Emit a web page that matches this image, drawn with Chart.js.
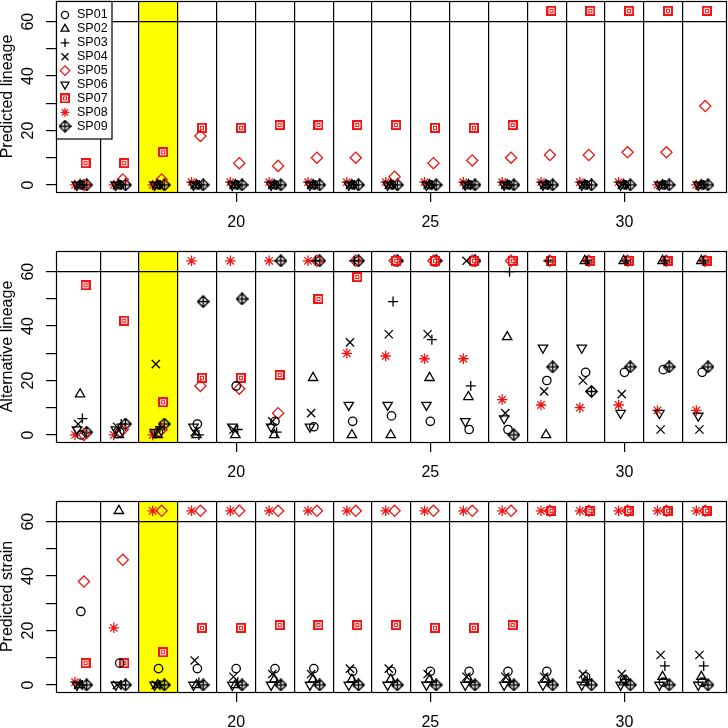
<!DOCTYPE html>
<html>
<head>
<meta charset="utf-8">
<script src="https://cdn.jsdelivr.net/npm/chart.js@4.4.0/dist/chart.umd.min.js"></script>
<style>
    html, body { margin: 0; padding: 0; background: #fff; overflow: hidden; }
    .panel { position: absolute; left: 0; width: 728px; height: 250px; }
</style>
</head>
<body>
<div class="panel" style="top:0"><canvas id="lineageChart"></canvas></div>
<div class="panel" style="top:250px"><canvas id="altChart"></canvas></div>
<div class="panel" style="top:500px"><canvas id="strainChart"></canvas></div>
<script>
// values above 60 are drawn in the strip above the line
const O = 64;

const columns = [16, 17, 18, 19, 20, 21, 22, 23, 24, 25, 26, 27, 28, 29, 30, 31, 32];
const species = ['SP01', 'SP02', 'SP03', 'SP04', 'SP05', 'SP06', 'SP07', 'SP08', 'SP09'];
const jitter = [0, -0.02, 0.04, -0.07, 0.08, -0.1, 0.12, -0.15, 0.15];
const xTickLabels = [20, 25, 30];
const yTicks = [0, 10, 20, 30, 40, 50, 60];
const highlightColumn = 18;

const predictedLineage = [
    [0, 0, 0, 0, 0, 0, 0, 0, 0, 0, 0, 0, 0, 0, 0, 0, 0],
    [0, 0, 0, 0, 0, 0, 0, 0, 0, 0, 0, 0, 0, 0, 0, 0, 0],
    [0, 0, 0, 0, 0, 0, 0, 0, 0, 0, 0, 0, 0, 0, 0, 0, 0],
    [0, 0, 0, 0, 0, 0, 0, 0, 0, 0, 0, 0, 0, 0, 0, 0, 0],
    [0, 2, 2, 18, 8, 7, 10, 10, 3, 8, 9, 10, 11, 11, 12, 12, 29],
    [0, 0, 0, 0, 0, 0, 0, 0, 0, 0, 0, 0, 0, 0, 0, 0, 0],
    [8, 8, 12, 21, 21, 22, 22, 22, 22, 21, 21, 22, O, O, O, O, O],
    [0, 0, 0, 1, 1, 1, 1, 1, 1, 1, 1, 1, 1, 1, 1, 0, 0],
    [0, 0, 0, 0, 0, 0, 0, 0, 0, 0, 0, 0, 0, 0, 0, 0, 0]
];

const alternativeLineage = [
    [0, 1, 1, 4, 18, 5, 3, 5, 7, 5, 2, 2, 20, 23, 23, 24, 23],
    [15, 0, 0, 0, 0, 0, 21, 0, 0, 21, 14, 36, 0, O, O, O, O],
    [6, 4, 3, 0, 2, 1, O, O, 49, 35, 18, 60, O, O, O, O, O],
    [4, 3, 26, 1, 2, 5, 8, 34, 37, 37, O, 8, 16, 20, 15, 2, 2],
    [0, 2, 2, 18, 17, 8, O, O, O, O, O, O, O, O, O, O, O],
    [2, 2, 1, 3, 3, 3, 3, 11, 11, 11, 5, 6, 32, 32, 8, 8, 7],
    [55, 42, 12, 21, 21, 22, 50, 58, O, O, O, O, O, O, O, O, O],
    [0, 0, 0, O, O, O, O, 30, 29, 28, 28, 13, 11, 10, 11, 9, 9],
    [1, 4, 4, 49, 50, O, O, O, O, O, O, 0, 25, 16, 25, 25, 25]
];

const predictedStrain = [
    [27, 8, 6, 6, 6, 6, 6, 5, 5, 5, 5, 5, 5, 3, 2, 1, 1],
    [0, O, 0, 0, 0, 2, 2, 2, 2, 2, 2, 2, 2, 1, 1, 3, 3],
    [0, 0, 0, 1, 1, 1, 1, 1, 1, 1, 1, 1, 1, 2, 2, 7, 7],
    [0, 0, 0, 9, 3, 4, 4, 6, 6, 4, 3, 3, 3, 4, 4, 11, 11],
    [38, 46, O, O, O, O, O, O, O, O, O, O, O, O, O, O, O],
    [0, 0, 0, 0, 0, 0, 0, 0, 0, 0, 0, 0, 0, 0, 0, 0, 0],
    [8, 8, 12, 21, 21, 22, 22, 22, 22, 21, 21, 22, O, O, O, O, O],
    [1, 21, O, O, O, O, O, O, O, O, O, O, O, O, O, O, O],
    [0, 0, 0, 0, 0, 0, 0, 0, 0, 0, 0, 0, 0, 0, 0, 0, 0]
];

const RED = '#f01414';
const FONT = "'Liberation Sans', Arial, Helvetica, sans-serif";
const NONE = 'rgba(0,0,0,0)';

// R-like pch 7 / pch 9 markers
function boxedSquare() {
    const c = document.createElement('canvas');
    c.width = 10; c.height = 10;
    const g = c.getContext('2d');
    g.fillStyle = RED;
    g.fillRect(0, 0, 10, 10);
    g.strokeStyle = '#fff';
    g.lineWidth = 1;
    g.strokeRect(2.5, 2.5, 5, 5);
    g.beginPath();
    g.moveTo(4, 4); g.lineTo(6, 6);
    g.moveTo(6, 4); g.lineTo(4, 6);
    g.stroke();
    return c;
}

function diamondPlus() {
    const c = document.createElement('canvas');
    c.width = 13; c.height = 13;
    const g = c.getContext('2d');
    g.strokeStyle = '#000';
    g.lineWidth = 1.4;
    g.beginPath();
    g.moveTo(6.5, 0.8); g.lineTo(12.2, 6.5); g.lineTo(6.5, 12.2); g.lineTo(0.8, 6.5); g.closePath();
    g.moveTo(6.5, 0.8); g.lineTo(6.5, 12.2);
    g.moveTo(0.8, 6.5); g.lineTo(12.2, 6.5);
    g.stroke();
    return c;
}

const markers = [
    { style: 'circle', radius: 4.2, color: '#000' },
    { style: 'triangle', radius: 5.4, color: '#000' },
    { style: 'cross', radius: 5, color: '#000' },
    { style: 'crossRot', radius: 5.8, color: '#000' },
    { style: 'rectRot', radius: 5.6, color: RED },
    { style: 'triangle', radius: 5.4, color: '#000', rotation: 180 },
    { style: boxedSquare(), radius: 5, color: RED },
    { style: 'star', radius: 5.2, color: RED },
    { style: diamondPlus(), radius: 6, color: '#000' }
];

const separators = columns.slice(0, -1).map(c => c + 0.5);
const span = columns[columns.length - 1] - columns[0];

// no extra room for half-labels at the ends of the axes
function noEndPadding(s) {
    s.paddingTop = 0; s.paddingBottom = 0; s.paddingLeft = 0; s.paddingRight = 0;
}

const panelPlugin = {
    id: 'panelFrame',
    beforeDraw(chart) {
        const { ctx, chartArea: a, scales: { x } } = chart;
        const l = x.getPixelForValue(highlightColumn - 0.5);
        const r = x.getPixelForValue(highlightColumn + 0.5);
        ctx.save();
        ctx.fillStyle = '#ffff00';
        ctx.fillRect(l, a.top, r - l, a.bottom - a.top);
        ctx.restore();
    },
    afterDraw(chart, args, opts) {
        const { ctx, chartArea: a } = chart;
        ctx.save();
        ctx.strokeStyle = '#000';
        ctx.lineWidth = 1.2;
        ctx.strokeRect(a.left + 0.5, a.top + 0.5, a.right - a.left - 1, a.bottom - a.top);
        if (opts.legend) {
            const lx = a.left, ly = a.top;
            ctx.fillStyle = '#fff';
            ctx.fillRect(lx, ly, 56, 138);
            ctx.strokeRect(lx + 0.5, ly + 0.5, 55.5, 137.5);
            ctx.font = '12.5px ' + FONT;
            ctx.textBaseline = 'middle';
            species.forEach((name, i) => {
                const m = markers[i];
                const y = ly + 14 + i * 13.9;
                ctx.strokeStyle = m.color;
                ctx.fillStyle = NONE;
                ctx.lineWidth = 1.3;
                Chart.helpers.drawPoint(ctx, {
                    pointStyle: m.style, radius: m.radius * 0.85, rotation: m.rotation || 0, borderWidth: 1.3
                }, lx + 9, y);
                ctx.fillStyle = '#000';
                ctx.fillText(name, lx + 21, y);
            });
        }
        ctx.restore();
    }
};

function renderPanel(id, title, values, showLegend) {
    const datasets = species.map((name, i) => ({
        label: name,
        data: columns.map((c, j) => ({ x: c + jitter[i], y: values[i][j] })),
        pointStyle: markers[i].style,
        pointRadius: markers[i].radius,
        pointRotation: markers[i].rotation || 0,
        borderColor: markers[i].color,
        backgroundColor: NONE,
        pointBorderWidth: 1.3,
        showLine: false,
        clip: false
    }));

    new Chart(document.getElementById(id), {
        type: 'scatter',
        data: { datasets: datasets },
        options: {
            responsive: true,
            maintainAspectRatio: false,
            animation: false,
            events: [],
            layout: { autoPadding: false, padding: { top: 1, right: 1, left: 0, bottom: 0 } },
            plugins: {
                legend: { display: false },
                tooltip: { enabled: false },
                panelFrame: { legend: showLegend }
            },
            scales: {
                x: {
                    type: 'linear',
                    min: columns[0] - 0.04 * span,
                    max: columns[columns.length - 1] + 0.04 * span,
                    afterBuildTicks: s => {
                        s.ticks = separators.concat(xTickLabels).sort((a, b) => a - b).map(v => ({ value: v }));
                    },
                    afterFit: s => { s.height = 58; noEndPadding(s); },
                    border: { display: false },
                    grid: {
                        color: c => (c.tick && c.tick.value % 1) ? '#000' : NONE,
                        tickColor: c => (c.tick && c.tick.value % 1) ? NONE : '#000',
                        tickLength: 10,
                        lineWidth: 1.2
                    },
                    ticks: {
                        autoSkip: false, maxRotation: 0, padding: 11, color: '#000',
                        font: { size: 16, family: FONT },
                        callback: v => (v % 1 ? '' : String(v))
                    }
                },
                y: {
                    min: -2.6,
                    max: 67.6,
                    afterBuildTicks: s => { s.ticks = yTicks.map(v => ({ value: v })); },
                    afterFit: s => { s.width = 56; noEndPadding(s); },
                    border: { display: false },
                    grid: {
                        color: c => (c.tick && c.tick.value === 60) ? '#000' : NONE,
                        tickColor: '#000',
                        tickLength: 10,
                        lineWidth: 1.2
                    },
                    ticks: {
                        minRotation: 90, maxRotation: 90, crossAlign: 'center', padding: 9, color: '#000',
                        font: { size: 16, family: FONT },
                        callback: v => (v % 20 ? '' : String(v))
                    },
                    title: {
                        display: true, text: title, color: '#000', padding: 0,
                        font: { size: 16, family: FONT, lineHeight: 1 }
                    }
                }
            }
        },
        plugins: [panelPlugin]
    });
}

renderPanel('lineageChart', 'Predicted lineage', predictedLineage, true);
renderPanel('altChart', 'Alternative lineage', alternativeLineage, false);
renderPanel('strainChart', 'Predicted strain', predictedStrain, false);
</script>
</body>
</html>
